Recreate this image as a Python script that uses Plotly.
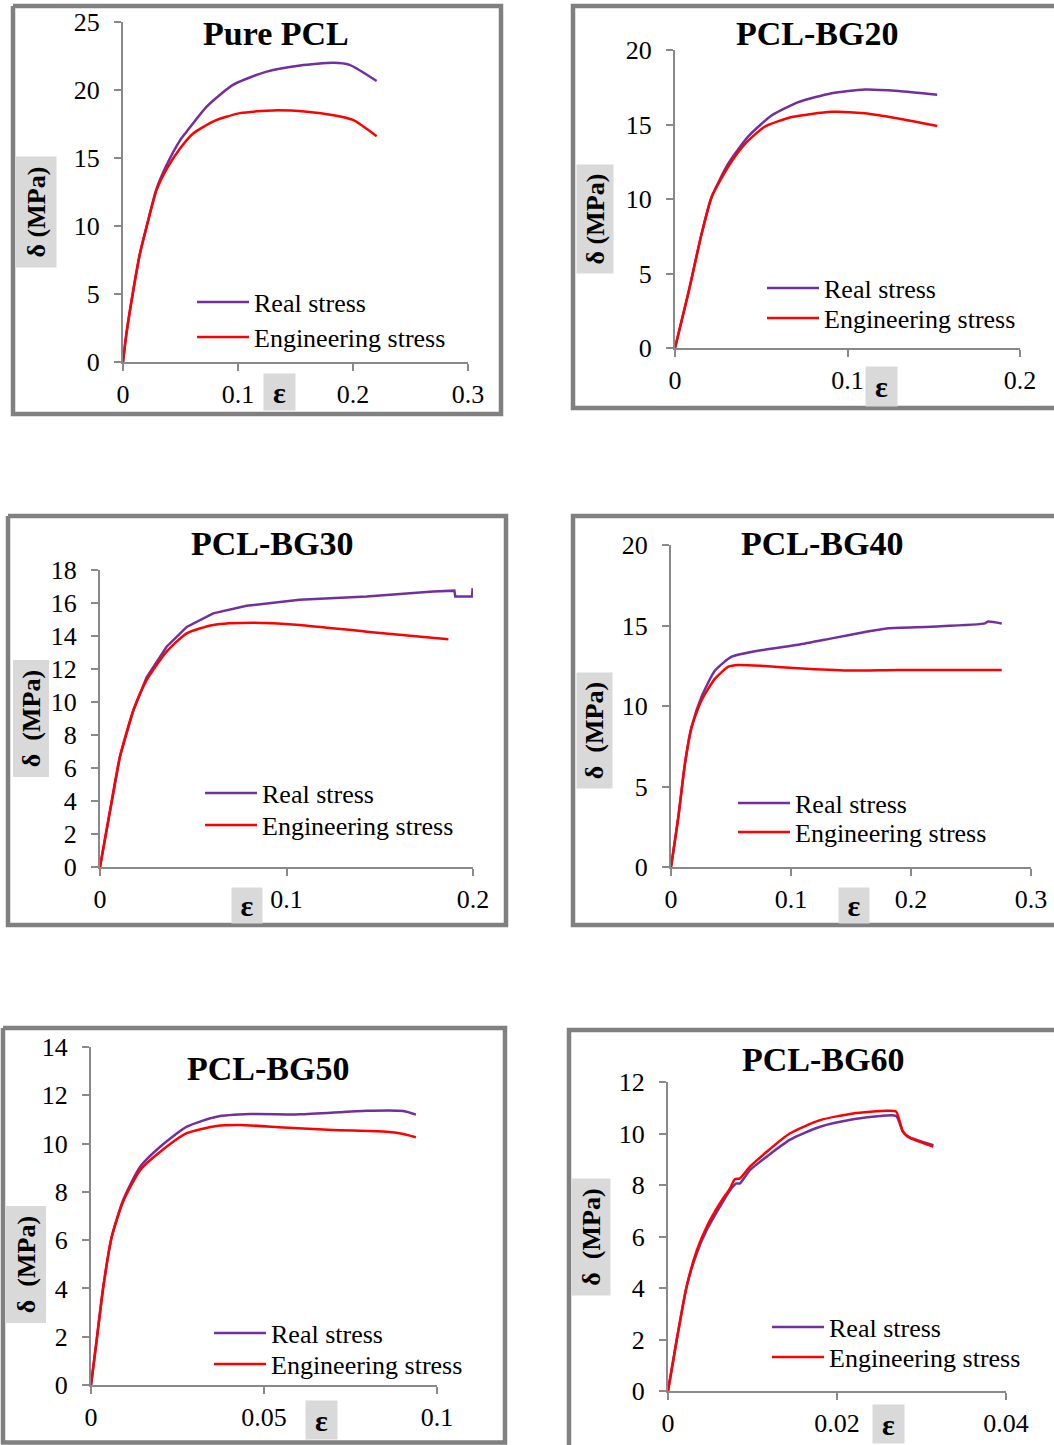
import plotly.graph_objects as go

# ---------------- data ----------------
titles = ["Pure PCL", "PCL-BG20", "PCL-BG30", "PCL-BG40", "PCL-BG50", "PCL-BG60"]
series_names = ["Real stress", "Engineering stress"]

pcl_real_x = [0, 0.003, 0.009, 0.0148, 0.0206, 0.029, 0.038, 0.0496, 0.055, 0.073, 0.096, 0.125, 0.154, 0.183, 0.197, 0.2206]
pcl_real_y = [0, 2.1, 5.3, 8.0, 10.0, 12.7, 14.5, 16.3, 16.9, 18.8, 20.4, 21.35, 21.8, 22.0, 21.85, 20.66]
pcl_eng_x = [0, 0.003, 0.009, 0.0148, 0.0206, 0.029, 0.038, 0.0496, 0.061, 0.0786, 0.1017, 0.1307, 0.16, 0.183, 0.2, 0.2206]
pcl_eng_y = [0, 2.1, 5.3, 8.0, 9.95, 12.6, 14.2, 15.7, 16.8, 17.7, 18.3, 18.5, 18.4, 18.15, 17.8, 16.6]

bg20_real_x = [0, 0.0077, 0.0155, 0.0213, 0.031, 0.0425, 0.056, 0.0715, 0.0908, 0.110, 0.1295, 0.152]
bg20_real_y = [0, 3.67, 7.7, 10.15, 12.4, 14.2, 15.6, 16.5, 17.1, 17.35, 17.25, 17.0]
bg20_eng_x = [0, 0.0077, 0.0155, 0.0213, 0.031, 0.0406, 0.052, 0.0677, 0.0908, 0.110, 0.1295, 0.152]
bg20_eng_y = [0, 3.67, 7.7, 10.15, 12.2, 13.7, 14.85, 15.5, 15.85, 15.75, 15.4, 14.9]

bg30_real_x = [0, 0.0054, 0.0107, 0.0179, 0.025, 0.0357, 0.0465, 0.0607, 0.0786, 0.107, 0.143, 0.1787, 0.19, 0.1905, 0.1995, 0.1998]
bg30_real_y = [0, 3.45, 6.7, 9.5, 11.5, 13.35, 14.55, 15.37, 15.83, 16.2, 16.4, 16.7, 16.75, 16.4, 16.4, 16.9]
bg30_eng_x = [0, 0.0054, 0.0107, 0.0179, 0.025, 0.0357, 0.0465, 0.0607, 0.0822, 0.107, 0.143, 0.1868]
bg30_eng_y = [0, 3.45, 6.7, 9.5, 11.33, 13.05, 14.16, 14.67, 14.8, 14.67, 14.26, 13.8]

bg40_real_x = [0, 0.0061, 0.0117, 0.0172, 0.0256, 0.0367, 0.0506, 0.078, 0.106, 0.134, 0.1617, 0.181, 0.217, 0.2617, 0.264, 0.2756]
bg40_real_y = [0, 3.1, 6.45, 8.7, 10.6, 12.2, 13.06, 13.5, 13.8, 14.2, 14.6, 14.83, 14.93, 15.13, 15.25, 15.13]
bg40_eng_x = [0, 0.0061, 0.0117, 0.0172, 0.0256, 0.0367, 0.0478, 0.0561, 0.078, 0.106, 0.148, 0.189, 0.2756]
bg40_eng_y = [0, 3.1, 6.45, 8.7, 10.37, 11.7, 12.44, 12.55, 12.48, 12.34, 12.2, 12.24, 12.24]

bg50_real_x = [0, 0.00164, 0.00356, 0.006, 0.0093, 0.0142, 0.02, 0.0277, 0.0363, 0.046, 0.0604, 0.0797, 0.0903, 0.0939]
bg50_real_y = [0, 1.86, 4.07, 6.14, 7.66, 9.04, 9.87, 10.7, 11.11, 11.22, 11.21, 11.36, 11.35, 11.2]
bg50_eng_x = [0, 0.00164, 0.00356, 0.006, 0.0093, 0.0142, 0.02, 0.0277, 0.0363, 0.043, 0.0556, 0.07, 0.0845, 0.0903, 0.0939]
bg50_eng_y = [0, 1.86, 4.07, 6.14, 7.6, 8.9, 9.66, 10.43, 10.73, 10.77, 10.67, 10.56, 10.5, 10.4, 10.26]

bg60_real_x = [0, 0.00103, 0.0022, 0.0034, 0.00458, 0.00615, 0.00734, 0.0081, 0.0085, 0.0097, 0.01168, 0.0144, 0.018, 0.0219, 0.0251, 0.027, 0.0278, 0.0286, 0.0314]
bg60_real_y = [0, 1.98, 4.05, 5.35, 6.25, 7.16, 7.8, 8.06, 8.06, 8.58, 9.1, 9.75, 10.26, 10.55, 10.68, 10.68, 10.07, 9.85, 9.55]
bg60_eng_x = [0, 0.00103, 0.0022, 0.0034, 0.00458, 0.00615, 0.00734, 0.0079, 0.0085, 0.0097, 0.01168, 0.0144, 0.018, 0.0219, 0.0259, 0.027, 0.0278, 0.0284, 0.0314]
bg60_eng_y = [0, 1.98, 4.05, 5.45, 6.38, 7.29, 7.87, 8.22, 8.26, 8.71, 9.29, 10.0, 10.52, 10.78, 10.88, 10.85, 10.07, 9.87, 9.49]

x_ranges = [[0, 0.3], [0, 0.2], [0, 0.2], [0, 0.3], [0, 0.1], [0, 0.04]]
y_ranges = [[0, 25], [0, 20], [0, 18], [0, 20], [0, 14], [0, 12]]
x_dticks = [0.1, 0.1, 0.1, 0.1, 0.05, 0.02]
y_dticks = [5, 5, 2, 5, 2, 2]
y_labels = ["δ (MPa)", "δ (MPa)", "δ\u00a0\u00a0(MPa)", "δ\u00a0\u00a0(MPa)", "δ\u00a0\u00a0(MPa)", "δ\u00a0\u00a0(MPa)"]
x_label = "ε"

data = [
    (pcl_real_x, pcl_real_y, pcl_eng_x, pcl_eng_y),
    (bg20_real_x, bg20_real_y, bg20_eng_x, bg20_eng_y),
    (bg30_real_x, bg30_real_y, bg30_eng_x, bg30_eng_y),
    (bg40_real_x, bg40_real_y, bg40_eng_x, bg40_eng_y),
    (bg50_real_x, bg50_real_y, bg50_eng_x, bg50_eng_y),
    (bg60_real_x, bg60_real_y, bg60_eng_x, bg60_eng_y),
]

# ---------------- layout geometry (pixels) ----------------
W, H = 1054, 1445
def fx(p): return p / W
def fy(p): return 1 - p / H

areas = [(123, 468, 22, 362), (675, 1020, 50, 348), (100, 473, 570, 867),
         (671, 1031, 545, 867), (91, 437, 1047, 1385), (668, 1006, 1082, 1391)]
frames = [
    [(13, 6), (501, 6), (501, 414), (13, 414), (13, 6)],
    [(1054, 6), (573, 6), (573, 408), (1054, 408)],
    [(8, 516), (506, 516), (506, 925), (8, 925), (8, 516)],
    [(1054, 516), (573, 516), (573, 925), (1054, 925)],
    [(3, 1028), (505, 1028), (505, 1442.5), (3, 1442.5), (3, 1028)],
    [(1054, 1030), (569, 1030), (569, 1445)],
]
title_pos = [(276, 33), (817, 33), (272, 543), (822, 543), (268, 1068), (823, 1059)]
ylab_pos = [(36, 212, 40, 110), (595, 219, 36, 108), (30.5, 719, 35, 116),
            (594.5, 730.5, 35, 115), (25.5, 1265, 39, 116), (591, 1237, 38, 116)]
xlab_pos = [(279.5, 392, 31, 36), (881.5, 386.5, 31, 39), (247, 905.5, 30, 35),
            (854, 905.5, 30, 35), (321.5, 1420, 31, 38), (888.5, 1424, 31, 38)]
# legend: text start x, row1 y, row2 y
legend_pos = [(254, 302, 337), (824, 288, 318), (262, 793, 825), (795, 803, 832),
              (271, 1333, 1364), (829, 1327, 1357)]
smooth = [True, True, False, True, True, True]

COL_REAL = "#7030A0"
COL_ENG = "#FF0000"
AX_COL = "#898989"
FONT = "Liberation Serif"
FS = 26
ITEMW = 52

fig = go.Figure()
layout = dict(width=W, height=H, margin=dict(l=0, r=0, t=0, b=0, autoexpand=False), autosize=False,
              paper_bgcolor="white", plot_bgcolor="white", showlegend=True,
              font=dict(family=FONT, size=FS, color="black"))
shapes = []
annotations = []

for i in range(6):
    n = "" if i == 0 else str(i + 1)
    xr, yr, xe, ye = data[i]
    lg_r = "legend" if i == 0 else f"legend{2 * i + 1}"
    lg_e = f"legend{2 * i + 2}"
    real_shape = "spline" if smooth[i] else "linear"
    fig.add_trace(go.Scatter(x=xr, y=yr, mode="lines", name=series_names[0], showlegend=True,
                             line=dict(color=COL_REAL, width=2.5, shape=real_shape, smoothing=0.6),
                             xaxis="x" + n, yaxis="y" + n, legend=lg_r))
    fig.add_trace(go.Scatter(x=xe, y=ye, mode="lines", name=series_names[1], showlegend=True,
                             line=dict(color=COL_ENG, width=2.5, shape="spline", smoothing=0.6),
                             xaxis="x" + n, yaxis="y" + n, legend=lg_e))
    x0, x1, yt, yb = areas[i]
    common = dict(showgrid=False, zeroline=False, showline=True, linecolor=AX_COL, linewidth=2,
                  ticks="outside", ticklen=7, tickwidth=2, tickcolor=AX_COL, automargin=False,
                  tickfont=dict(family=FONT, size=FS, color="black"), fixedrange=True)
    layout["xaxis" + n] = dict(domain=[fx(x0), fx(x1)], range=x_ranges[i], dtick=x_dticks[i],
                               tick0=0, anchor="y" + n, ticklabelstandoff=1, **common)
    layout["yaxis" + n] = dict(domain=[fy(yb), fy(yt)], range=y_ranges[i], dtick=y_dticks[i],
                               tick0=0, anchor="x" + n, ticklabelstandoff=9, **common)
    lx, ly1, ly2 = legend_pos[i]
    for lg, ly in ((lg_r, ly1), (lg_e, ly2)):
        layout[lg] = dict(x=fx(lx - ITEMW - 10), y=fy(ly), xanchor="left", yanchor="middle",
                          bgcolor="rgba(0,0,0,0)", font=dict(family=FONT, size=FS, color="black"),
                          itemwidth=ITEMW, visible=True)
    pts = frames[i]
    path = "M " + " L ".join(f"{fx(px):.6f},{fy(py):.6f}" for px, py in pts)
    shapes.append(dict(type="path", xref="paper", yref="paper", path=path,
                       line=dict(color="#808080", width=4.5), layer="below"))
    tx, ty = title_pos[i]
    annotations.append(dict(text="<b>" + titles[i] + "</b>", xref="paper", yref="paper",
                            x=fx(tx), y=fy(ty), xanchor="center", yanchor="middle", showarrow=False,
                            font=dict(family=FONT, size=34, color="black")))
    cx, cy, bw, bh = ylab_pos[i]
    annotations.append(dict(text="<b>" + y_labels[i] + "</b>", xref="paper", yref="paper",
                            x=fx(cx), y=fy(cy), xanchor="center", yanchor="middle", showarrow=False,
                            textangle=-90, width=bh, height=bw, bgcolor="#D9D9D9", borderpad=0,
                            font=dict(family=FONT, size=FS, color="black")))
    cx, cy, bw, bh = xlab_pos[i]
    annotations.append(dict(text="<b>" + x_label + "</b>", xref="paper", yref="paper",
                            x=fx(cx), y=fy(cy), xanchor="center", yanchor="middle", showarrow=False,
                            width=bw, height=bh, bgcolor="#D9D9D9", borderpad=0,
                            font=dict(family=FONT, size=30, color="black")))

layout["shapes"] = shapes
layout["annotations"] = annotations
fig.update_layout(**layout)
fig.write_html("out.html", config={"responsive": False, "displayModeBar": False},
               post_script="document.body.style.margin='0px';document.body.style.padding='0px';"
                           "document.documentElement.style.overflow='hidden';document.body.style.overflow='hidden';")
